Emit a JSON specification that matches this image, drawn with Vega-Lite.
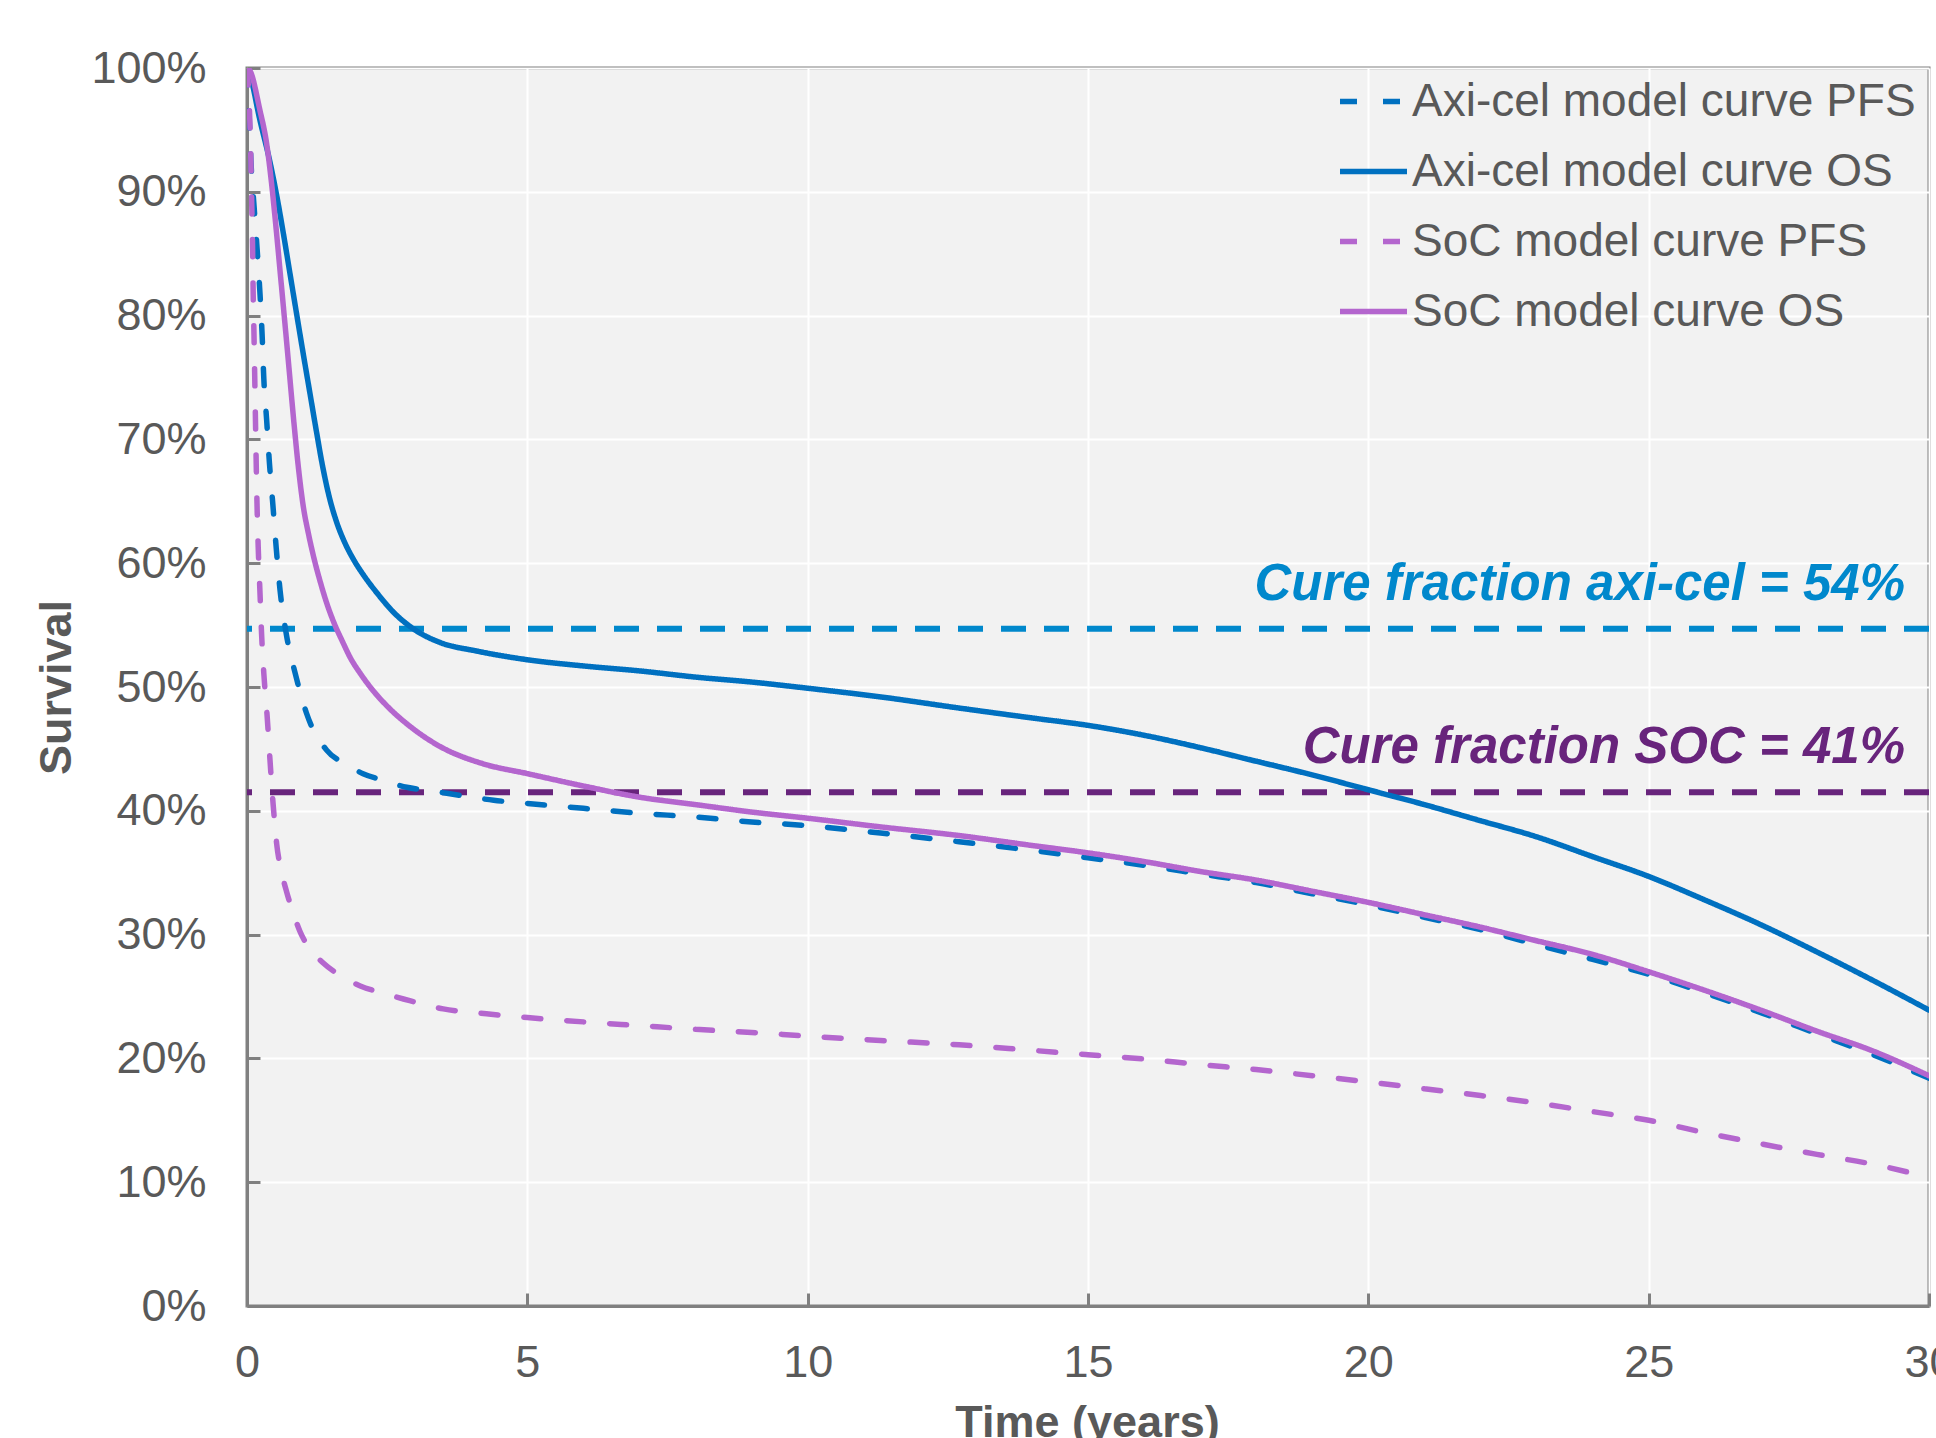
{
  "$schema": "https://vega.github.io/schema/vega-lite/v6.json",
  "autosize": "none",
  "width": 1682,
  "height": 1238,
  "padding": {"left": 247, "top": 68, "right": 7, "bottom": 132},
  "background": "white",
  "config": {
    "font": "Liberation Sans",
    "view": {"fill": "#F2F2F2", "stroke": "#808080", "strokeWidth": 3},
    "axis": {
      "domainColor": "#808080", "domainWidth": 3,
      "tickColor": "#808080", "tickWidth": 3,
      "gridColor": "#FFFFFF", "gridWidth": 2, "gridOpacity": 1,
      "labelColor": "#595959", "labelFont": "Liberation Sans",
      "titleColor": "#595959", "titleFont": "Liberation Sans", "titleFontWeight": "bold"
    }
  },
  "layer": [
    {
      "data": {"values": [{"cure": 54.7, "label": "Cure fraction axi-cel = 54%"}]},
      "layer": [
        {
          "mark": {"type": "rule", "color": "#0088CC", "strokeWidth": 6, "strokeDash": [25, 18]},
          "encoding": {"y": {"field": "cure", "type": "quantitative", "scale": {"domain": [0, 100]}}}
        },
        {
          "mark": {"type": "text", "color": "#0088CC", "align": "right", "baseline": "alphabetic", "dx": -24, "dy": -29, "fontSize": 51, "fontWeight": "bold", "fontStyle": "italic", "font": "Liberation Sans"},
          "encoding": {
            "x": {"datum": 30, "type": "quantitative"},
            "y": {"field": "cure", "type": "quantitative"},
            "text": {"field": "label"}
          }
        }
      ]
    },
    {
      "data": {"values": [{"cure": 41.5, "label": "Cure fraction SOC = 41%"}]},
      "layer": [
        {
          "mark": {"type": "rule", "color": "#68247C", "strokeWidth": 6, "strokeDash": [25, 18]},
          "encoding": {"y": {"field": "cure", "type": "quantitative"}}
        },
        {
          "mark": {"type": "text", "color": "#68247C", "align": "right", "baseline": "alphabetic", "dx": -24, "dy": -29, "fontSize": 51, "fontWeight": "bold", "fontStyle": "italic", "font": "Liberation Sans"},
          "encoding": {
            "x": {"datum": 30, "type": "quantitative"},
            "y": {"field": "cure", "type": "quantitative"},
            "text": {"field": "label"}
          }
        }
      ]
    },
    {
      "data": {"values": [
        {"series":"Axi-cel model curve PFS","t":0,"s":100},{"series":"Axi-cel model curve PFS","t":0.04,"s":96},{"series":"Axi-cel model curve PFS","t":0.07,"s":92.5},{"series":"Axi-cel model curve PFS","t":0.125,"s":88.9},{"series":"Axi-cel model curve PFS","t":0.18,"s":85.4},{"series":"Axi-cel model curve PFS","t":0.23,"s":81.9},{"series":"Axi-cel model curve PFS","t":0.27,"s":78.4},{"series":"Axi-cel model curve PFS","t":0.3,"s":74.9},{"series":"Axi-cel model curve PFS","t":0.35,"s":71.6},{"series":"Axi-cel model curve PFS","t":0.4,"s":68.1},{"series":"Axi-cel model curve PFS","t":0.46,"s":64.8},{"series":"Axi-cel model curve PFS","t":0.52,"s":61.3},{"series":"Axi-cel model curve PFS","t":0.59,"s":57.8},{"series":"Axi-cel model curve PFS","t":0.7,"s":54.3},{"series":"Axi-cel model curve PFS","t":0.86,"s":51.1},{"series":"Axi-cel model curve PFS","t":1.06,"s":47.9},{"series":"Axi-cel model curve PFS","t":1.42,"s":44.9},{"series":"Axi-cel model curve PFS","t":1.75,"s":43.8},{"series":"Axi-cel model curve PFS","t":2.07,"s":43},{"series":"Axi-cel model curve PFS","t":2.4,"s":42.5},{"series":"Axi-cel model curve PFS","t":2.85,"s":41.9},{"series":"Axi-cel model curve PFS","t":3.3,"s":41.6},{"series":"Axi-cel model curve PFS","t":3.86,"s":41.2},{"series":"Axi-cel model curve PFS","t":4.4,"s":40.85},{"series":"Axi-cel model curve PFS","t":5,"s":40.6},{"series":"Axi-cel model curve PFS","t":6,"s":40.2},{"series":"Axi-cel model curve PFS","t":7,"s":39.8},{"series":"Axi-cel model curve PFS","t":8,"s":39.5},{"series":"Axi-cel model curve PFS","t":9,"s":39.1},{"series":"Axi-cel model curve PFS","t":10,"s":38.8},{"series":"Axi-cel model curve PFS","t":11.3,"s":38.2},{"series":"Axi-cel model curve PFS","t":12.7,"s":37.5},{"series":"Axi-cel model curve PFS","t":14,"s":36.8},{"series":"Axi-cel model curve PFS","t":15,"s":36.2},{"series":"Axi-cel model curve PFS","t":16,"s":35.6},{"series":"Axi-cel model curve PFS","t":17,"s":34.9},{"series":"Axi-cel model curve PFS","t":18,"s":34.2},{"series":"Axi-cel model curve PFS","t":19,"s":33.3},{"series":"Axi-cel model curve PFS","t":20,"s":32.4},{"series":"Axi-cel model curve PFS","t":21,"s":31.4},{"series":"Axi-cel model curve PFS","t":22,"s":30.4},{"series":"Axi-cel model curve PFS","t":23,"s":29.2},{"series":"Axi-cel model curve PFS","t":24,"s":28},{"series":"Axi-cel model curve PFS","t":25,"s":26.8},{"series":"Axi-cel model curve PFS","t":26,"s":25.3},{"series":"Axi-cel model curve PFS","t":27,"s":23.7},{"series":"Axi-cel model curve PFS","t":28,"s":22},{"series":"Axi-cel model curve PFS","t":29,"s":20.3},{"series":"Axi-cel model curve PFS","t":30,"s":18.4},
        {"series":"Axi-cel model curve OS","t":0,"s":100},{"series":"Axi-cel model curve OS","t":0.054,"s":99.4},{"series":"Axi-cel model curve OS","t":0.23,"s":95.8},{"series":"Axi-cel model curve OS","t":0.41,"s":92.4},{"series":"Axi-cel model curve OS","t":0.53,"s":89.7},{"series":"Axi-cel model curve OS","t":0.65,"s":86.6},{"series":"Axi-cel model curve OS","t":0.77,"s":83.3},{"series":"Axi-cel model curve OS","t":0.89,"s":80},{"series":"Axi-cel model curve OS","t":1,"s":77},{"series":"Axi-cel model curve OS","t":1.12,"s":73.8},{"series":"Axi-cel model curve OS","t":1.24,"s":70.6},{"series":"Axi-cel model curve OS","t":1.35,"s":67.8},{"series":"Axi-cel model curve OS","t":1.47,"s":65.3},{"series":"Axi-cel model curve OS","t":1.6,"s":63.3},{"series":"Axi-cel model curve OS","t":1.75,"s":61.6},{"series":"Axi-cel model curve OS","t":1.9,"s":60.3},{"series":"Axi-cel model curve OS","t":2.1,"s":58.9},{"series":"Axi-cel model curve OS","t":2.3,"s":57.7},{"series":"Axi-cel model curve OS","t":2.6,"s":56.1},{"series":"Axi-cel model curve OS","t":3,"s":54.6},{"series":"Axi-cel model curve OS","t":3.44,"s":53.6},{"series":"Axi-cel model curve OS","t":4.1,"s":52.9},{"series":"Axi-cel model curve OS","t":5,"s":52.2},{"series":"Axi-cel model curve OS","t":6,"s":51.7},{"series":"Axi-cel model curve OS","t":7,"s":51.3},{"series":"Axi-cel model curve OS","t":8,"s":50.8},{"series":"Axi-cel model curve OS","t":9,"s":50.4},{"series":"Axi-cel model curve OS","t":10,"s":49.9},{"series":"Axi-cel model curve OS","t":11.3,"s":49.2},{"series":"Axi-cel model curve OS","t":12.7,"s":48.3},{"series":"Axi-cel model curve OS","t":14,"s":47.5},{"series":"Axi-cel model curve OS","t":15,"s":46.9},{"series":"Axi-cel model curve OS","t":16,"s":46.1},{"series":"Axi-cel model curve OS","t":17,"s":45.1},{"series":"Axi-cel model curve OS","t":18,"s":44},{"series":"Axi-cel model curve OS","t":19,"s":42.9},{"series":"Axi-cel model curve OS","t":20,"s":41.7},{"series":"Axi-cel model curve OS","t":21,"s":40.5},{"series":"Axi-cel model curve OS","t":22,"s":39.2},{"series":"Axi-cel model curve OS","t":23,"s":37.9},{"series":"Axi-cel model curve OS","t":24,"s":36.3},{"series":"Axi-cel model curve OS","t":25,"s":34.7},{"series":"Axi-cel model curve OS","t":26,"s":32.8},{"series":"Axi-cel model curve OS","t":27,"s":30.8},{"series":"Axi-cel model curve OS","t":28,"s":28.6},{"series":"Axi-cel model curve OS","t":29,"s":26.3},{"series":"Axi-cel model curve OS","t":30,"s":23.9},
        {"series":"SoC model curve PFS","t":0,"s":100},{"series":"SoC model curve PFS","t":0.03,"s":98},{"series":"SoC model curve PFS","t":0.05,"s":95.8},{"series":"SoC model curve PFS","t":0.07,"s":92.4},{"series":"SoC model curve PFS","t":0.085,"s":88.9},{"series":"SoC model curve PFS","t":0.1,"s":85.4},{"series":"SoC model curve PFS","t":0.11,"s":81.9},{"series":"SoC model curve PFS","t":0.125,"s":78.4},{"series":"SoC model curve PFS","t":0.14,"s":74.5},{"series":"SoC model curve PFS","t":0.155,"s":70.5},{"series":"SoC model curve PFS","t":0.175,"s":65.5},{"series":"SoC model curve PFS","t":0.2,"s":61.3},{"series":"SoC model curve PFS","t":0.23,"s":57.8},{"series":"SoC model curve PFS","t":0.26,"s":54.3},{"series":"SoC model curve PFS","t":0.3,"s":51.1},{"series":"SoC model curve PFS","t":0.36,"s":47.6},{"series":"SoC model curve PFS","t":0.41,"s":44.1},{"series":"SoC model curve PFS","t":0.47,"s":40.3},{"series":"SoC model curve PFS","t":0.53,"s":37.3},{"series":"SoC model curve PFS","t":0.62,"s":35},{"series":"SoC model curve PFS","t":0.71,"s":33.4},{"series":"SoC model curve PFS","t":0.82,"s":31.8},{"series":"SoC model curve PFS","t":0.95,"s":30.2},{"series":"SoC model curve PFS","t":1.15,"s":28.7},{"series":"SoC model curve PFS","t":1.36,"s":27.7},{"series":"SoC model curve PFS","t":1.7,"s":26.6},{"series":"SoC model curve PFS","t":2.02,"s":25.85},{"series":"SoC model curve PFS","t":2.4,"s":25.3},{"series":"SoC model curve PFS","t":2.79,"s":24.8},{"series":"SoC model curve PFS","t":3.5,"s":24},{"series":"SoC model curve PFS","t":4.27,"s":23.6},{"series":"SoC model curve PFS","t":5,"s":23.3},{"series":"SoC model curve PFS","t":6,"s":22.95},{"series":"SoC model curve PFS","t":7,"s":22.65},{"series":"SoC model curve PFS","t":8,"s":22.35},{"series":"SoC model curve PFS","t":9,"s":22.1},{"series":"SoC model curve PFS","t":10,"s":21.8},{"series":"SoC model curve PFS","t":11.3,"s":21.45},{"series":"SoC model curve PFS","t":12.7,"s":21.1},{"series":"SoC model curve PFS","t":14,"s":20.65},{"series":"SoC model curve PFS","t":15,"s":20.3},{"series":"SoC model curve PFS","t":16,"s":19.95},{"series":"SoC model curve PFS","t":17,"s":19.5},{"series":"SoC model curve PFS","t":18,"s":19.1},{"series":"SoC model curve PFS","t":19,"s":18.6},{"series":"SoC model curve PFS","t":20,"s":18.1},{"series":"SoC model curve PFS","t":21,"s":17.55},{"series":"SoC model curve PFS","t":22,"s":17},{"series":"SoC model curve PFS","t":23,"s":16.4},{"series":"SoC model curve PFS","t":24,"s":15.7},{"series":"SoC model curve PFS","t":25,"s":15},{"series":"SoC model curve PFS","t":26,"s":14},{"series":"SoC model curve PFS","t":27,"s":13.1},{"series":"SoC model curve PFS","t":28,"s":12.25},{"series":"SoC model curve PFS","t":29,"s":11.45},{"series":"SoC model curve PFS","t":30,"s":10.4},
        {"series":"SoC model curve OS","t":0,"s":100},{"series":"SoC model curve OS","t":0.05,"s":99.8},{"series":"SoC model curve OS","t":0.23,"s":96.6},{"series":"SoC model curve OS","t":0.35,"s":93.9},{"series":"SoC model curve OS","t":0.44,"s":90.6},{"series":"SoC model curve OS","t":0.52,"s":87},{"series":"SoC model curve OS","t":0.6,"s":83.1},{"series":"SoC model curve OS","t":0.68,"s":79.2},{"series":"SoC model curve OS","t":0.76,"s":75.2},{"series":"SoC model curve OS","t":0.84,"s":71.2},{"series":"SoC model curve OS","t":0.92,"s":67.6},{"series":"SoC model curve OS","t":1,"s":64.7},{"series":"SoC model curve OS","t":1.1,"s":62.3},{"series":"SoC model curve OS","t":1.2,"s":60.3},{"series":"SoC model curve OS","t":1.3,"s":58.6},{"series":"SoC model curve OS","t":1.42,"s":56.8},{"series":"SoC model curve OS","t":1.55,"s":55.2},{"series":"SoC model curve OS","t":1.7,"s":53.7},{"series":"SoC model curve OS","t":1.85,"s":52.3},{"series":"SoC model curve OS","t":2.02,"s":51.1},{"series":"SoC model curve OS","t":2.25,"s":49.7},{"series":"SoC model curve OS","t":2.49,"s":48.5},{"series":"SoC model curve OS","t":2.97,"s":46.6},{"series":"SoC model curve OS","t":3.44,"s":45.2},{"series":"SoC model curve OS","t":4.21,"s":43.8},{"series":"SoC model curve OS","t":5,"s":43},{"series":"SoC model curve OS","t":6,"s":42},{"series":"SoC model curve OS","t":7,"s":41.1},{"series":"SoC model curve OS","t":8,"s":40.5},{"series":"SoC model curve OS","t":9,"s":39.9},{"series":"SoC model curve OS","t":10,"s":39.4},{"series":"SoC model curve OS","t":11.3,"s":38.7},{"series":"SoC model curve OS","t":12.7,"s":38},{"series":"SoC model curve OS","t":14,"s":37.2},{"series":"SoC model curve OS","t":15,"s":36.6},{"series":"SoC model curve OS","t":16,"s":35.9},{"series":"SoC model curve OS","t":17,"s":35.1},{"series":"SoC model curve OS","t":18,"s":34.4},{"series":"SoC model curve OS","t":19,"s":33.5},{"series":"SoC model curve OS","t":20,"s":32.6},{"series":"SoC model curve OS","t":21,"s":31.6},{"series":"SoC model curve OS","t":22,"s":30.6},{"series":"SoC model curve OS","t":23,"s":29.5},{"series":"SoC model curve OS","t":24,"s":28.4},{"series":"SoC model curve OS","t":25,"s":27},{"series":"SoC model curve OS","t":26,"s":25.5},{"series":"SoC model curve OS","t":27,"s":23.9},{"series":"SoC model curve OS","t":28,"s":22.2},{"series":"SoC model curve OS","t":29,"s":20.6},{"series":"SoC model curve OS","t":30,"s":18.6}
      ]},
      "mark": {"type": "line", "strokeCap": "round", "interpolate": "monotone", "clip": true},
      "encoding": {
        "x": {
          "field": "t", "type": "quantitative",
          "scale": {"domain": [0, 30], "nice": false},
          "axis": {
            "values": [0, 5, 10, 15, 20, 25, 30], "format": "d", "labelFlush": false,
            "title": "Time (years)", "titleFontSize": 45,
            "titleX": 840, "titleY": 130, "titleAlign": "center", "titleBaseline": "alphabetic",
            "labelFontSize": 45, "labelPadding": 47, "tickSize": -13, "labelBaseline": "top",
            "grid": true
          }
        },
        "y": {
          "field": "s", "type": "quantitative",
          "scale": {"domain": [0, 100], "nice": false},
          "axis": {
            "values": [0, 10, 20, 30, 40, 50, 60, 70, 80, 90, 100],
            "labelExpr": "datum.value + '%'", "labelFlush": false,
            "title": "Survival", "titleFontSize": 45,
            "titleX": -191, "titleY": 619, "titleAngle": 270, "titleAlign": "center", "titleBaseline": "middle",
            "labelFontSize": 45, "labelPadding": 54, "tickSize": -13,
            "grid": true
          }
        },
        "color": {
          "field": "series", "type": "nominal",
          "scale": {
            "domain": ["Axi-cel model curve PFS", "Axi-cel model curve OS", "SoC model curve PFS", "SoC model curve OS"],
            "range": ["#0070C0", "#0070C0", "#B466CE", "#B466CE"]
          },
          "legend": {
            "orient": "none", "legendX": 1090, "legendY": -3, "title": null,
            "labelFontSize": 46, "labelColor": "#595959", "labelFont": "Liberation Sans", "labelLimit": 0,
            "symbolType": "stroke", "symbolSize": 4489, "symbolStrokeWidth": 5,
            "rowPadding": 10, "labelOffset": 2, "padding": 0
          }
        },
        "strokeDash": {
          "field": "series", "type": "nominal",
          "scale": {
            "domain": ["Axi-cel model curve PFS", "Axi-cel model curve OS", "SoC model curve PFS", "SoC model curve OS"],
            "range": [[17, 26], [1, 0], [17, 26], [1, 0]]
          },
          "legend": {
            "orient": "none", "legendX": 1090, "legendY": -3, "title": null,
            "labelFontSize": 46, "labelColor": "#595959", "labelFont": "Liberation Sans", "labelLimit": 0,
            "symbolType": "stroke", "symbolSize": 4489, "symbolStrokeWidth": 5,
            "rowPadding": 10, "labelOffset": 2, "padding": 0
          }
        },
        "strokeWidth": {
          "field": "series", "type": "nominal",
          "scale": {
            "domain": ["Axi-cel model curve PFS", "Axi-cel model curve OS", "SoC model curve PFS", "SoC model curve OS"],
            "range": [5.5, 5.5, 5.5, 6.5]
          },
          "legend": null
        }
      }
    }
  ]
}
